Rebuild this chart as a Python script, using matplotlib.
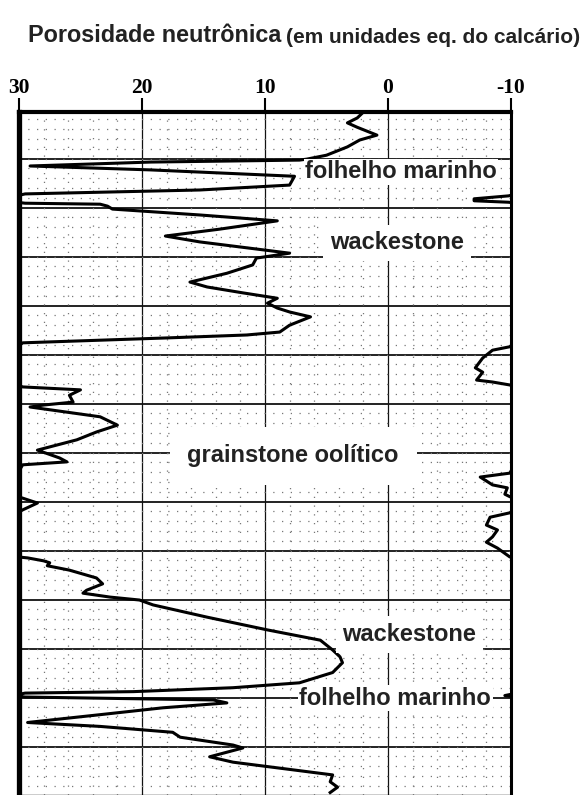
import numpy as np
import matplotlib.pyplot as plt

# perfil de porosidade neutrônica (profundidade em pés, porosidade em %)
profundidade = [
    0.5, 1.7, 2.7, 3.6, 5.2, 6.2, 7.6, 9.3, 10.1, 10.3,
    10.7, 11.5, 12.3, 13.6, 15.4, 16.4, 17.2, 17.6, 18.2, 18.6,
    18.9, 19.1, 19.3, 19.7, 20.3, 21.5, 22.7, 24.4, 25.8, 27.0,
    29.3, 30.3, 31.7, 33.4, 35.2, 36.2, 37.4, 38.5, 39.5, 40.5,
    41.3, 42.3, 44.0, 45.4, 46.0, 46.6, 47.6, 48.4, 49.1, 50.7,
    52.7, 53.6, 55.2, 55.6, 56.2, 56.6, 57.2, 58.3, 59.7, 60.3,
    60.7, 62.7, 64.4, 65.8, 67.4, 69.5, 71.1, 71.9, 72.5, 74.2,
    75.0, 76.6, 77.2, 78.5, 79.0, 79.3, 80.3, 81.7, 82.3, 83.2,
    84.8, 85.8, 87.2, 88.3, 89.5, 91.3, 91.5, 92.1, 92.5, 93.1,
    94.0, 95.6, 96.8, 98.1, 98.7, 99.5, 100.1, 101.1, 103.6, 106.2,
    108.3, 110.3, 111.7, 112.9, 114.9, 117.0, 118.0, 118.8, 119.1, 119.6,
    119.9, 120.5, 121.1, 122.1, 123.5, 125.1, 125.9, 127.1, 128.1, 129.7,
    130.3, 132.1, 133.2, 135.8, 137.2, 138.3, 139.4,
]
porosidade = [
    2.0, 2.5, 3.3, 2.5, 0.9, 2.3, 3.3, 5.0, 6.6, 7.2,
    19.3, 29.1, 19.3, 7.6, 8.0, 15.3, 29.5, 30.2, 33.0, 33.0,
    30.2, 29.5, 23.4, 22.8, 22.4, 15.3, 9.0, 13.7, 18.1, 15.3,
    8.0, 10.7, 11.0, 13.1, 16.1, 14.7, 11.8, 9.0, 9.8, 9.0,
    8.0, 6.3, 8.0, 8.8, 11.5, 18.0, 29.7, 30.1, 31.5, 32.3,
    32.9, 32.3, 32.8, 31.5, 30.1, 29.7, 25.0, 25.9, 25.6, 28.0,
    29.1, 23.4, 22.0, 23.7, 25.3, 28.5, 26.7, 26.1, 29.7, 30.1,
    32.5, 31.5, 30.3, 30.5, 30.1, 29.7, 28.5, 29.7, 30.1, 31.7,
    32.0, 31.1, 31.5, 32.0, 31.1, 30.1, 29.3, 28.0, 27.5, 27.7,
    25.9, 23.7, 23.2, 24.5, 24.8, 22.6, 20.2, 19.1, 14.7, 9.8,
    5.5, 4.5, 3.9, 3.7, 4.5, 7.2, 12.6, 20.7, 29.5, 30.5,
    29.5, 14.2, 13.1, 18.3, 23.4, 29.3, 23.4, 17.5, 16.9, 12.6,
    11.8, 14.5, 12.6, 4.5, 4.7, 4.1, 4.7,
]

escala = [30, 20, 10, 0, -10]
escala_txt = ['30', '20', '10', '0', '-10']

litologias = ['folhelho marinho', 'wackestone', 'grainstone oolítico',
              'wackestone', 'folhelho marinho']
lito_x = [6.75, 4.7, 16.3, 3.7, 7.2]
lito_prof = [12.7, 27.2, 70.7, 107.2, 120.1]
lito_pad = [1, 5, 13, 5, 1]

d = np.array(profundidade)
phi = np.array(porosidade)

fig = plt.figure(figsize=(5.84, 7.95), dpi=100)
ax = fig.add_axes([0.0325, 0.0, 0.8425, 0.859])

ax.set_xlim(30, -10)
ax.set_ylim(139.9, 0.5)

# grade do papel do perfil
ax.set_xticks(np.arange(-10, 31, 2), minor=True)
ax.set_yticks(np.arange(2, 140, 2), minor=True)
ax.grid(which='minor', color='#777777', linestyle=(0, (1, 6)), linewidth=0.9)
for x in [20, 10, 0]:
    ax.axvline(x, color='#111111', linewidth=0.9, zorder=1)
for y in range(10, 140, 10):
    ax.axhline(y, color='#111111', linewidth=1.3, zorder=1)

# curva principal e retorno da escala (valores acima de 30)
ax.plot(phi, d, color='black', linewidth=2.2, zorder=3)
ax.plot(phi - 40, d, color='black', linewidth=2.2, zorder=3)

ax.xaxis.tick_top()
ax.set_xticks(escala)
ax.set_xticklabels(escala_txt, fontfamily='Liberation Serif',
                   fontweight='bold', fontsize=15.5)
ax.tick_params(axis='x', which='major', direction='out', length=10,
               width=1.5, pad=0)
ax.tick_params(axis='x', which='minor', length=0)
ax.tick_params(axis='y', which='both', left=False, labelleft=False)

ax.spines['left'].set_linewidth(3.8)
ax.spines['top'].set_linewidth(3.0)
ax.spines['right'].set_linewidth(2.2)
ax.spines['bottom'].set_linewidth(1.0)

for nome, x, y, p in zip(litologias, lito_x, lito_prof, lito_pad):
    ax.text(x, y, nome, fontsize=17, fontweight='bold', color='#222222',
            fontfamily='Liberation Sans', ha='left', va='center', zorder=4,
            bbox=dict(facecolor='white', edgecolor='none', pad=p))

fig.text(0.048, 0.955, 'Porosidade neutrônica', fontsize=16.8,
         fontweight='bold', color='#222222', fontfamily='Liberation Sans',
         va='center')
fig.text(0.49, 0.953, '(em unidades eq. do calcário)', fontsize=15,
         fontweight='bold', color='#222222', fontfamily='Liberation Sans',
         va='center')

fig.savefig('out.png', dpi=100)
